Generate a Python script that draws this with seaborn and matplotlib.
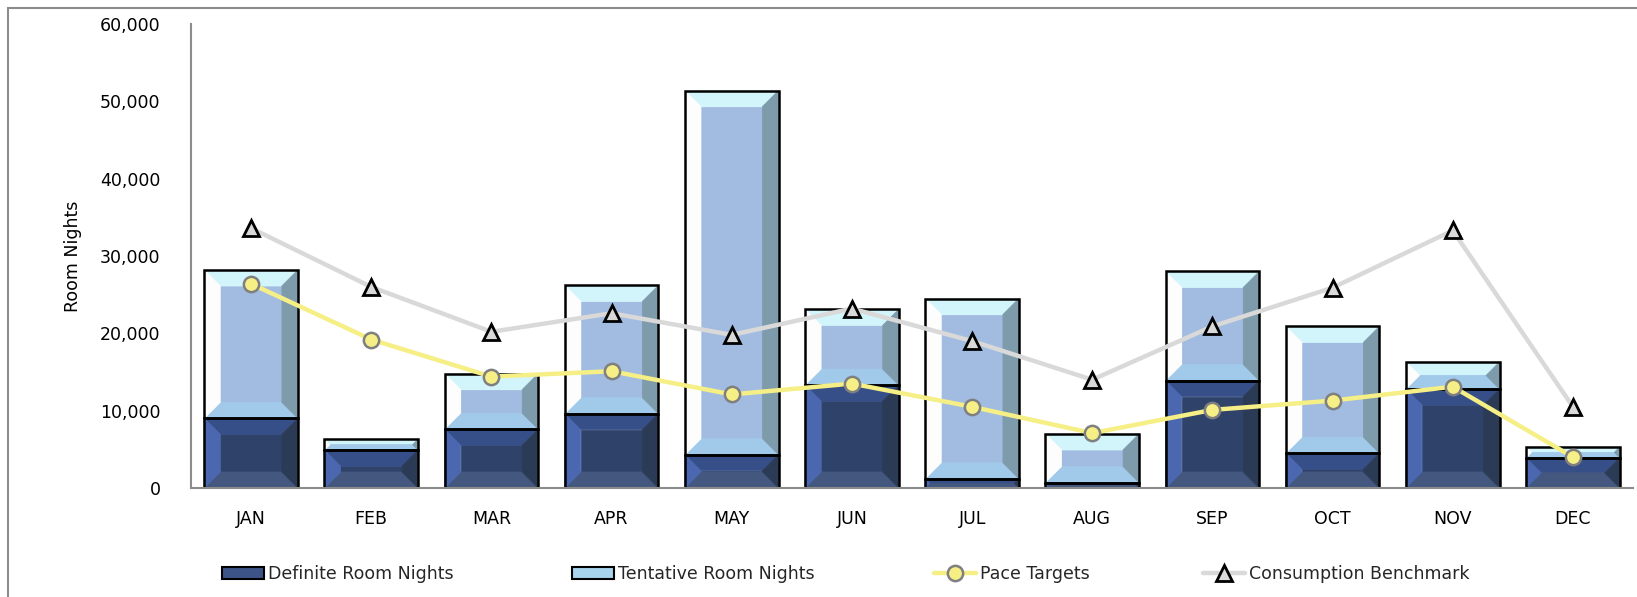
import numpy as np
import pandas as pd
import matplotlib
matplotlib.use("Agg")
import matplotlib.pyplot as plt
from matplotlib.patches import Polygon, Patch, Rectangle
from matplotlib.lines import Line2D
from matplotlib.transforms import IdentityTransform
from matplotlib.ticker import FuncFormatter
import seaborn as sns

# ---- data -------------------------------------------------------------
months = ["JAN", "FEB", "MAR", "APR", "MAY", "JUN",
          "JUL", "AUG", "SEP", "OCT", "NOV", "DEC"]
definite = [9000, 4900, 7600, 9600, 4300, 13300, 1200, 700, 13900, 4500, 12800, 3900]
tentative = [19200, 1400, 7200, 16600, 47100, 9800, 23300, 6300, 14100, 16400, 3500, 1400]
pace_targets = [26400, 19200, 14400, 15100, 12100, 13500, 10500, 7100, 10100, 11300, 13100, 4000]
benchmark = [33600, 26000, 20200, 22600, 19800, 23200, 19000, 14000, 20900, 25900, 33300, 10500]
y_ticks = [0, 10000, 20000, 30000, 40000, 50000, 60000]

df = pd.DataFrame({
    "month": months,
    "definite": definite,
    "tentative": tentative,
    "pace": pace_targets,
    "benchmark": benchmark,
})
df["total"] = df["definite"] + df["tentative"]

# ---- styling ----------------------------------------------------------
sns.set_theme(style="white")
plt.rcParams["font.family"] = ["DejaVu Sans"]

DPI = 100
W, H = 1637, 597
fig = plt.figure(figsize=(W / DPI, H / DPI), dpi=DPI, facecolor="white")
ax = fig.add_axes([191 / W, 1 - 488 / H, (1633 - 191) / W, (488 - 24) / H])

# bevel colours: centre, top, left, right, bottom
DEF_BEVEL = dict(center="#2F4269", top="#364F88", left="#4A67B0",
                 right="#2C3B55", bottom="#43577F")
TEN_BEVEL = dict(center="#A1BCE0", top="#D2F5FC", left="#FDFDFD",
                 right="#7E9BAB", bottom="#A1C9E9")
PACE_COLOR = "#F5EF86"
BENCH_COLOR = "#D9D9D9"

# stacked bars: totals first (later trimmed to the tentative segment), then definite
sns.barplot(data=df, x="month", y="total", color=TEN_BEVEL["center"],
            width=0.78, edgecolor="black", linewidth=1.8, saturation=1,
            errorbar=None, ax=ax)
sns.barplot(data=df, x="month", y="definite", color=DEF_BEVEL["center"],
            width=0.78, edgecolor="black", linewidth=1.8, saturation=1,
            errorbar=None, ax=ax)

bars = list(ax.patches)
tent_bars, def_bars = bars[:12], bars[12:24]
for p, d, t in zip(tent_bars, definite, tentative):
    p.set_y(d)
    p.set_height(t)

ax.set_xlim(-0.5, len(months) - 0.5)
ax.set_ylim(0, 60000)


def add_bevel(patch, colors, depth=16.0):
    """Overlay a bevelled look (four trapezoids + centre panel) on a bar."""
    x0, y0 = patch.get_x(), patch.get_y()
    x1, y1 = x0 + patch.get_width(), y0 + patch.get_height()
    (px0, py0), (px1, py1) = ax.transData.transform([(x0, y0), (x1, y1)])
    b = min(depth, (px1 - px0) / 2, (py1 - py0) / 2)
    ix0, ix1, iy0, iy1 = px0 + b, px1 - b, py0 + b, py1 - b
    shapes = {
        "center": [(ix0, iy0), (ix1, iy0), (ix1, iy1), (ix0, iy1)],
        "top": [(px0, py1), (px1, py1), (ix1, iy1), (ix0, iy1)],
        "bottom": [(px0, py0), (px1, py0), (ix1, iy0), (ix0, iy0)],
        "left": [(px0, py0), (ix0, iy0), (ix0, iy1), (px0, py1)],
        "right": [(px1, py0), (px1, py1), (ix1, iy1), (ix1, iy0)],
    }
    for key, pts in shapes.items():
        ax.add_patch(Polygon(pts, closed=True, facecolor=colors[key],
                             edgecolor=colors[key], linewidth=0.6,
                             transform=IdentityTransform(), zorder=1.5))
    patch.set_facecolor("none")
    patch.set_zorder(2)


for p in tent_bars:
    add_bevel(p, TEN_BEVEL)
for p in def_bars:
    add_bevel(p, DEF_BEVEL)

# lines with markers
n0 = len(ax.lines)
sns.pointplot(data=df, x="month", y="benchmark", color=BENCH_COLOR,
              markers="^", linestyles="-", errorbar=None, ax=ax)
for ln in ax.lines[n0:]:
    ln.set_linewidth(3.2)
    ln.set_markersize(11)
    ln.set_markerfacecolor(BENCH_COLOR)
    ln.set_markeredgecolor("black")
    ln.set_markeredgewidth(2)
    ln.set_zorder(5)

n0 = len(ax.lines)
sns.pointplot(data=df, x="month", y="pace", color=PACE_COLOR,
              markers="o", linestyles="-", errorbar=None, ax=ax)
for ln in ax.lines[n0:]:
    ln.set_linewidth(3.2)
    ln.set_markersize(11)
    ln.set_markerfacecolor(PACE_COLOR)
    ln.set_markeredgecolor("#7F7F7F")
    ln.set_markeredgewidth(1.8)
    ln.set_zorder(6)

ax.set_xlim(-0.5, len(months) - 0.5)
ax.set_ylim(0, 60000)

# axes decoration
ax.set_yticks(y_ticks)
ax.yaxis.set_major_formatter(FuncFormatter(lambda v, _: f"{int(v):,}"))
ax.tick_params(axis="y", length=0, pad=22, labelsize=12.5, labelcolor="black")
ax.tick_params(axis="x", length=0, pad=16, labelsize=12.5, labelcolor="black")
ax.set_xlabel("")
ax.set_ylabel("Room Nights", fontsize=12.5, color="black")
ax.yaxis.set_label_coords((82 - 191) / (1633 - 191), 0.5)
for side in ("top", "right"):
    ax.spines[side].set_visible(False)
for side in ("left", "bottom"):
    ax.spines[side].set_color("#8C8C8C")
    ax.spines[side].set_linewidth(1.5)
ax.grid(False)

# outer chart frame
fig.patches.append(Rectangle((8 / W, -0.1), 1.2, 1.1 - 8 / H,
                             transform=fig.transFigure, fill=False,
                             edgecolor="#8C8C8C", linewidth=1.5))

# legend along the bottom
handles = [
    Patch(facecolor="#3D5488", edgecolor="black", linewidth=1.5),
    Patch(facecolor="#A8D4EE", edgecolor="black", linewidth=1.5),
    Line2D([], [], color=PACE_COLOR, lw=3.2, marker="o", markersize=11,
           markerfacecolor=PACE_COLOR, markeredgecolor="#7F7F7F", markeredgewidth=1.8),
    Line2D([], [], color=BENCH_COLOR, lw=3.2, marker="^", markersize=11,
           markerfacecolor=BENCH_COLOR, markeredgecolor="black", markeredgewidth=2),
]
labels = ["Definite Room Nights", "Tentative Room Nights",
          "Pace Targets", "Consumption Benchmark"]
x_starts = [222, 572, 934, 1203]
for h, lab, xs in zip(handles, labels, x_starts):
    fig.legend([h], [lab], loc="center left", bbox_to_anchor=(xs / W, 1 - 574 / H),
               frameon=False, borderpad=0, borderaxespad=0, handlelength=2.4,
               handletextpad=0.25, fontsize=12.5)

fig.savefig("out.png", dpi=DPI, facecolor="white")
